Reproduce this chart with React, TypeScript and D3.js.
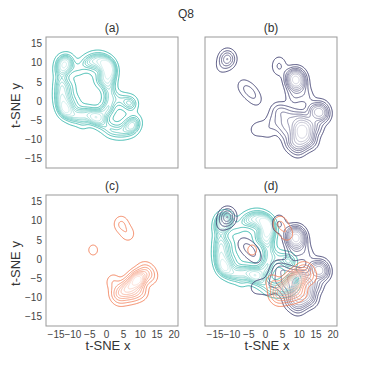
import React, { useMemo } from "react";
import * as d3 from "d3";

// axis domains and ticks
const X_DOMAIN: [number, number] = [-18, 21.2];
const Y_DOMAIN: [number, number] = [-17.5, 16.8];
const X_TICKS = [-15, -10, -5, 0, 5, 10, 15, 20];
const Y_TICKS = [-15, -10, -5, 0, 5, 10, 15];
const PANEL_TITLES = ["(a)", "(b)", "(c)", "(d)"];

// [x, y, weight] sample points estimated from the density plots
type Pt = [number, number, number];

const tealPoints: Pt[] = [
  [-13, 10, 1.5], [-11.5, 10.5, 1], [-13.5, 8, 1.2], [-11.5, 8.5, 0.6],
  [-8.5, 8.5, 0.6],
  [-6, 10, 0.9], [-4, 10.8, 1], [-2, 10.8, 1.1], [-0.5, 10, 1.3],
  [0.5, 9, 2], [1, 7.5, 1.5], [-3.5, 8.5, 0.5],
  [-2, 5.5, 0.6], [-9.5, -0.5, 0.6],
  [-13.5, 5, 1], [-13.5, 3, 1], [-13.5, 1, 1.2], [-13, -1, 1.5], [-12, -2.5, 2],
  [-11, 4, 0.6], [-11, 1.5, 0.6],
  [-0.5, 6, 0.9], [0.5, 4, 0.9], [1, 2, 0.8], [1, 0, 0.8], [0.5, -2, 1], [1, 5.5, 0.6],
  [-10, -4, 1], [-8, -3.5, 0.9], [-6, -3, 0.8], [-4, -4, 1.5], [-2.5, -4.5, 1.2],
  [-1, -3, 0.7], [-7, -5.5, 0.6], [-1, -6, 0.8], [1, -7.5, 0.8], [3, -8, 0.7],
  [5, -8, 0.7], [7, -7.5, 0.7], [8, -6.2, 1.1], [8.5, -5, 0.5], [6, -6, 0.5],
  [7.2, -0.7, 1.2], [5.5, 0, 0.6], [3.5, 0.5, 0.6],
];

const navyPoints: Pt[] = [
  [-11.3, 11.1, 2], [-12.5, 9.8, 0.3], [-13.5, 8.5, 0.2],
  [-7, 4.3, 0.3], [-5.8, 3.3, 0.35], [-4.6, 2.4, 0.5], [-3.4, 1.2, 0.35], [-2.4, 0, 0.25],
  [4, 10, 0.45], [4, 8.4, 0.45],
  [8, 6.2, 2.2], [9.5, 6.3, 2.3], [8.5, 4.8, 2], [10, 4.8, 1.8],
  [8, 2.2, 0.5], [8.5, 0.5, 0.5], [11.5, 2.5, 0.5], [12.5, 0.5, 0.5], [10, 1.5, 0.4],
  [14, -2.5, 1.2], [15.5, -3, 2], [17, -3.5, 1.5], [16.5, -2, 1],
  [10.7, -8.5, 3], [9.5, -7, 2.5], [11.5, -7, 2], [12.5, -9, 1.5],
  [9, -10, 1.5], [11, -11, 1.5], [13, -6, 1.5], [10.5, -4.5, 1.5],
  [8, -4, 1], [5.5, -3, 1], [3.5, -2.5, 0.8], [4, -6, 0.8], [6, -8, 1],
  [7.5, -11, 1], [9.5, -12.5, 1], [13.5, -10.5, 1], [15, -7, 1],
  [6.5, -5.5, 1], [2, -5, 0.5],
  [-3, -7.5, 0.4], [-1, -7, 0.4], [1, -8, 0.4],
];

const coralPoints: Pt[] = [
  [4.3, 9.2, 0.6], [5.5, 7.5, 0.25], [6.5, 6.5, 0.3],
  [-4, 2.4, 0.3],
  [9, -5.5, 3], [10, -5, 2], [7.5, -6.5, 2], [6, -7.5, 1.5], [4.5, -8, 1],
  [3, -9, 0.8], [4, -10, 0.7], [6, -9.5, 0.9], [8, -9, 1.2], [10, -8.5, 1],
  [12, -3.5, 0.8], [13, -4.5, 0.6], [11, -3, 0.6], [2, -6, 0.5],
];

const SERIES = [
  { name: "teal", color: "#2bb3a8", points: tealPoints, bandwidth: 1.4 },
  { name: "navy", color: "#38386b", points: navyPoints, bandwidth: 1.45 },
  { name: "coral", color: "#f27a52", points: coralPoints, bandwidth: 1.3 },
];

const GRID = 160;
// seaborn style iso-proportion levels: linspace(0.05, 1, 10)
const ISO_LEVELS = d3.range(10).map((i) => 0.05 + (i * 0.95) / 9);

function kde(points: Pt[], bw: number) {
  const [x0, x1] = X_DOMAIN;
  const [y0, y1] = Y_DOMAIN;
  const dx = (x1 - x0) / GRID;
  const dy = (y1 - y0) / GRID;
  const values = new Array(GRID * GRID).fill(0);
  for (let j = 0; j < GRID; j++) {
    const y = y0 + (j + 0.5) * dy;
    for (let i = 0; i < GRID; i++) {
      const x = x0 + (i + 0.5) * dx;
      let s = 0;
      for (const [px, py, w] of points) {
        const d2 = (x - px) ** 2 + (y - py) ** 2;
        s += w * Math.exp(-d2 / (2 * bw * bw));
      }
      values[j * GRID + i] = s;
    }
  }
  const sorted = values.slice().sort((a, b) => b - a);
  const total = d3.sum(sorted);
  const cum: number[] = [];
  let acc = 0;
  for (const v of sorted) {
    acc += v;
    cum.push(acc / total);
  }
  const thresholds = ISO_LEVELS.slice(0, -1).map((q) => {
    const idx = d3.bisectLeft(cum, 1 - q);
    return sorted[Math.min(idx, sorted.length - 1)];
  });
  const contours = d3.contours().size([GRID, GRID]).thresholds(thresholds)(values);
  return { contours, dx, dy };
}

const COLS = [46, 205];
const ROWS = [37, 195];
const PW = 132;
const PH = 131;
const FONT = "'Liberation Sans', Arial, sans-serif";

export default function App() {
  const xScale = d3.scaleLinear().domain(X_DOMAIN).range([0, PW]);
  const yScale = d3.scaleLinear().domain(Y_DOMAIN).range([PH, 0]);

  const layers = useMemo(
    () => SERIES.map((s) => ({ ...s, ...kde(s.points, s.bandwidth) })),
    []
  );

  const pathFor = (dx: number, dy: number) =>
    d3.geoPath(
      d3.geoTransform({
        point(x, y) {
          this.stream.point(
            xScale(X_DOMAIN[0] + x * dx),
            yScale(Y_DOMAIN[0] + y * dy)
          );
        },
      })
    );

  const drawLayer = (layer: any, key: string) => {
    const path = pathFor(layer.dx, layer.dy);
    const n = layer.contours.length;
    return (
      <g key={key}>
        {layer.contours.map((c: any, k: number) => (
          <path
            key={k}
            d={path(c) || ""}
            fill="none"
            stroke={d3.interpolateRgb(layer.color, "#ffffff")((k / n) * 0.85)}
            strokeWidth={0.9}
          />
        ))}
      </g>
    );
  };

  return (
    <svg
      width={374}
      height={374}
      style={{ position: "absolute", left: 0, top: 0, background: "#fff" }}
      fontFamily={FONT}
    >
      <defs>
        <clipPath id="panel-clip">
          <rect x={0} y={0} width={PW} height={PH} />
        </clipPath>
      </defs>
      <text x={186} y={18} textAnchor="middle" fontSize={12} fill="#333">
        Q8
      </text>
      {PANEL_TITLES.map((title, p) => {
        const col = p % 2;
        const row = Math.floor(p / 2);
        const left = COLS[col];
        const top = ROWS[row];
        const shown = p < 3 ? [layers[p]] : layers;
        return (
          <g key={title} transform={`translate(${left},${top})`}>
            <text x={PW / 2} y={-5} textAnchor="middle" fontSize={12} fill="#333">
              {title}
            </text>
            <g clipPath="url(#panel-clip)">
              {shown.map((l, i) => drawLayer(l, `${title}-${i}`))}
            </g>
            <rect
              x={0}
              y={0}
              width={PW}
              height={PH}
              fill="none"
              stroke="#999"
              strokeWidth={1}
            />
            {col === 0 &&
              Y_TICKS.map((t) => (
                <text
                  key={t}
                  x={-4}
                  y={yScale(t)}
                  textAnchor="end"
                  dominantBaseline="central"
                  fontSize={10}
                  fill="#444"
                >
                  {d3.format("d")(t)}
                </text>
              ))}
            {row === 1 &&
              X_TICKS.map((t) => (
                <text
                  key={t}
                  x={xScale(t)}
                  y={PH + 8}
                  textAnchor="middle"
                  dominantBaseline="central"
                  fontSize={10}
                  fill="#444"
                >
                  {d3.format("d")(t)}
                </text>
              ))}
            {col === 0 && (
              <text
                transform={`translate(${-26},${PH / 2 + 3}) rotate(-90)`}
                textAnchor="middle"
                fontSize={13}
                fill="#333"
              >
                t-SNE y
              </text>
            )}
            {row === 1 && (
              <text
                x={PW / 2 - 4}
                y={PH + 24}
                textAnchor="middle"
                fontSize={13}
                fill="#333"
              >
                t-SNE x
              </text>
            )}
          </g>
        );
      })}
    </svg>
  );
}
